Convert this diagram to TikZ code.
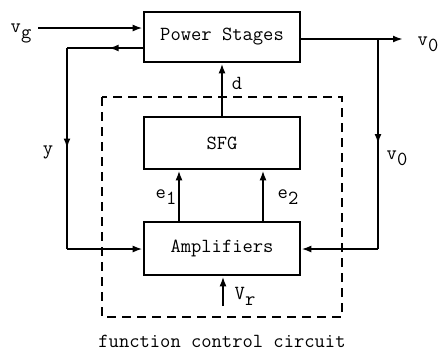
\documentclass[tikz,border=0pt]{standalone}
\usetikzlibrary{arrows.meta,decorations.markings}
\newcommand\lsub[1]{\raisebox{-0.7ex}{#1}}
\tikzset{
  blk/.style={draw, line width=2.6pt, minimum width=156pt, inner sep=0pt, font=\ttfamily\fontsize{20}{22}\selectfont},
  wire/.style={line width=2.6pt, -{Latex[length=10pt,width=7pt]}},
  plain/.style={line width=2.6pt},
  midarr/.style={postaction={decorate}, decoration={markings, mark=at position #1 with {\arrow{Latex[length=10pt,width=7pt]}}}},
  lbl/.style={font=\ttfamily\fontsize{20}{22}\selectfont, inner sep=0pt},
  dashbox/.style={line width=2.6pt, dash pattern=on 9pt off 6pt}
}
\begin{document}
\begin{tikzpicture}[x=1pt,y=-1pt]
\useasboundingbox (0,0) rectangle (440,360);
\node[blk, minimum height=50pt] (ps) at (222,37) {Power Stages};
\node[blk, minimum height=52pt] (sfg) at (222,143) {SFG};
\node[blk, minimum height=53pt] (amp) at (222,248.5) {Amplifiers};
\draw[dashbox] (102,97) rectangle (342,317);
% coordinates
\coordinate (vgs) at (38,28);
\coordinate (ya) at (67,48);
\coordinate (yb) at (67,249);
\coordinate (vo) at (403,39);
\coordinate (br) at (378,39);
\coordinate (bb) at (378,249);
\coordinate (e1) at (179,0);
\coordinate (e2) at (263,0);
\coordinate (vr) at (223,306);
% connectors
\draw[wire] (vgs) -- (vgs -| ps.west);
\draw[plain, midarr=0.45] (ya -| ps.west) -- (ya);
\draw[plain, midarr=0.5] (ya) -- (yb);
\draw[wire] (yb) -- (yb -| amp.west);
\draw[wire] (br -| ps.east) -- (vo);
\draw[plain, midarr=0.5] (br) -- (bb);
\draw[wire] (bb) -- (bb -| amp.east);
\draw[wire] (sfg.north) -- (ps.south);
\draw[wire] (e1 |- amp.north) -- (e1 |- sfg.south);
\draw[wire] (e2 |- amp.north) -- (e2 |- sfg.south);
\draw[wire] (vr) -- (vr |- amp.south);
% labels
\node[lbl] (lvg) at (21,33) {v\lsub{g}};
\node[lbl] (lvo) at (428,44) {v\lsub{0}};
\node[lbl] (ly) at (48,152) {y};
\node[lbl] (lvo2) at (397,158) {v\lsub{0}};
\node[lbl] (ld) at (237,83) {d};
\node[lbl] (le1) at (166,197) {e\lsub{1}};
\node[lbl] (le2) at (288,197) {e\lsub{2}};
\node[lbl] (lvr) at (245,296) {V\lsub{r}};
\node[lbl] (cap) at (222,341) {function control circuit};
\end{tikzpicture}
\end{document}
